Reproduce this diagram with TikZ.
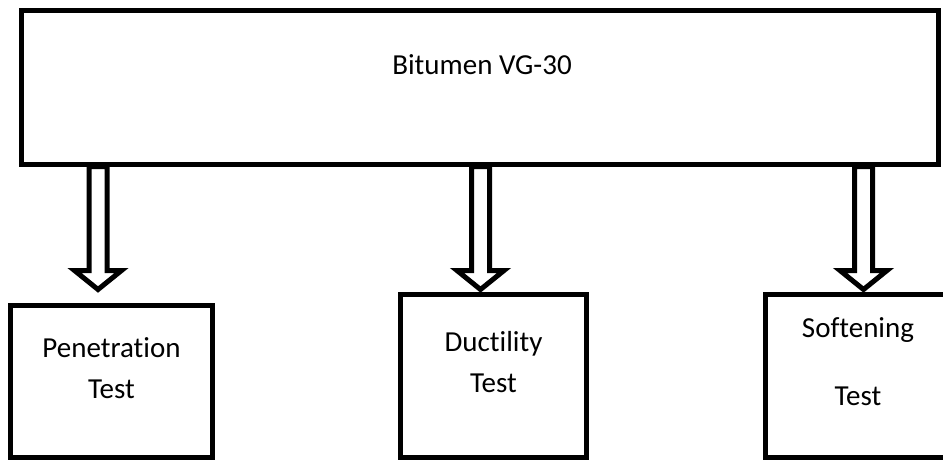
\documentclass[tikz,border=0pt]{standalone}
\usepackage{fontspec}
\setmainfont{Carlito}[Ligatures=NoCommon]
\begin{document}
\begin{tikzpicture}[x=1pt, y=-1pt,
  box/.style={draw, line width=5pt, inner sep=0pt},
  hollow/.style={draw, line width=5pt, line join=miter},
  txt/.style={font=\fontsize{29}{41}\selectfont, align=center, inner sep=0pt}]
\useasboundingbox (0,0) rectangle (943,460);

\node[box, minimum width=917pt, minimum height=153pt] (main) at (479.5,87.5) {};
\node[box, minimum width=202pt, minimum height=152pt] (pen) at (111.5,381.5) {};
\node[box, minimum width=186pt, minimum height=163pt] (duc) at (493.5,376) {};
\node[box, minimum width=185pt, minimum height=163pt] (sof) at (858,376) {};

\node[txt, anchor=base] (title) at (482,75) {Bitumen VG-30};
\node[txt, anchor=base] (penText) at (111.5,398) {Penetration\\Test};
\node[txt, anchor=base] (ducText) at (493.5,392) {Ductility\\Test};
\node[txt, anchor=base] (sofText) at (858,405) {Softening\\[27pt]Test};

\foreach \x/\t in {98/pen, 480.5/duc, 863.5/sof}{
  \coordinate (\t tip) at (\x,289.5);
  \draw[hollow] (\t tip) -- ++(-23.5,-19) -- ++(14.5,0) -- (\x-9,0 |- main.south)
                -- (\x+9,0 |- main.south) -- (\x+9,270.5) -- ++(14.5,0) -- cycle;
}
\end{tikzpicture}
\end{document}
